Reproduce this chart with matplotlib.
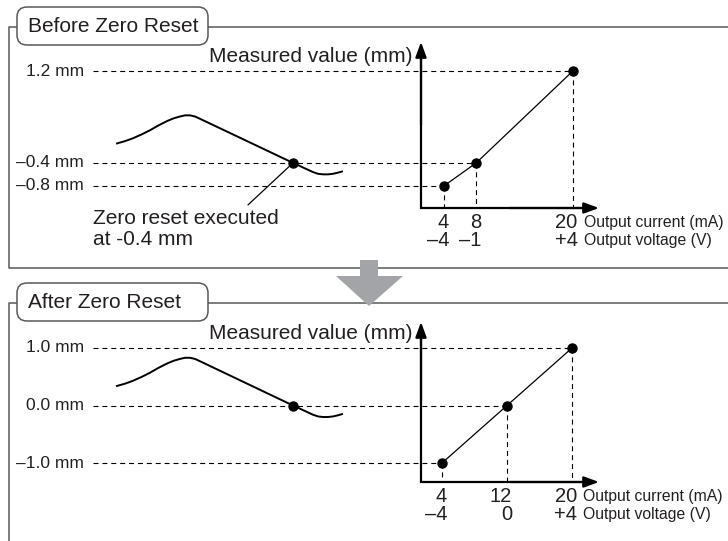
import matplotlib.pyplot as plt
from matplotlib.patches import FancyBboxPatch, Polygon

plt.rcParams['font.family'] = ['Liberation Sans', 'DejaVu Sans']

W, H = 728, 541
INK = '#231f20'
FRAME = '#58595b'

# output current (mA) vs measured value (mm), before the zero reset
CURRENT_BEFORE = [4, 8, 20]
VALUE_BEFORE = [-0.8, -0.4, 1.2]
VOLTAGE_BEFORE = ['–4', '–1', '+4']
VALUE_LABELS_BEFORE = ['–0.8 mm', '–0.4 mm', '1.2 mm']

# ... and after it
CURRENT_AFTER = [4, 12, 20]
VALUE_AFTER = [-1.0, 0.0, 1.0]
VOLTAGE_AFTER = ['–4', '0', '+4']
VALUE_LABELS_AFTER = ['–1.0 mm', '0.0 mm', '1.0 mm']

# measured waveform (arbitrary time units), reset happens at RESET_T
WAVE_T = [0, 8, 16, 25, 33, 41, 50, 57, 63, 68, 73, 78, 83,
          176, 180, 186, 191, 196, 201, 206, 211, 216, 221, 225]
WAVE_BEFORE = [-0.06, -0.02, 0.03, 0.10, 0.17, 0.25, 0.33, 0.38, 0.41, 0.43, 0.43, 0.41, 0.37,
               -0.40, -0.43, -0.48, -0.52, -0.56, -0.59, -0.60, -0.60, -0.59, -0.57, -0.55]
WAVE_AFTER = [0.34, 0.38, 0.43, 0.50, 0.57, 0.65, 0.73, 0.78, 0.81, 0.83, 0.83, 0.81, 0.77,
              0.00, -0.03, -0.08, -0.12, -0.16, -0.19, -0.20, -0.20, -0.19, -0.17, -0.15]
RESET_T = 176

fig = plt.figure(figsize=(W / 100, H / 100), dpi=100)
base = fig.add_axes([0, 0, 1, 1])
base.set_xlim(0, W)
base.set_ylim(H, 0)
base.axis('off')


def px_axes(left, top, right, bottom, **kw):
    return fig.add_axes([left / W, 1 - bottom / H, (right - left) / W, (bottom - top) / H], **kw)


def draw_panel(title, frame_top, frame_bottom, box_top, graph_top, graph_bottom, xlim, ylim,
               current, value, voltage, value_labels, wave, note=None):
    # frame and rounded title box
    if frame_bottom is None:
        base.plot([W, 9, 9], [frame_top, frame_top, H], color=FRAME, lw=1.1)
    else:
        base.plot([W, 9, 9, W], [frame_top, frame_top, frame_bottom, frame_bottom], color=FRAME, lw=1.1)
    base.add_patch(FancyBboxPatch((17, box_top), 191, 38, boxstyle='round,pad=0,rounding_size=10',
                                  fc='white', ec=FRAME, lw=1.1, zorder=3))
    base.text(28, box_top + 19, title, fontsize=15, color=INK, ha='left', va='center', zorder=4)

    # graph
    ax = px_axes(421, graph_top, 599, graph_bottom)
    ax.set_xlim(xlim)
    ax.set_ylim(ylim)
    ax.axis('off')

    ax.plot([0, 0, 0.9], [0.9, 0, 0], transform=ax.transAxes, color='black', lw=1.6,
            solid_joinstyle='miter', clip_on=False)
    for tip in [(0, 1), (1, 0)]:
        ax.annotate('', xy=tip, xytext=(tip[0] * 0.5, tip[1] * 0.5), xycoords='axes fraction',
                    arrowprops=dict(arrowstyle='-|>,head_length=0.9,head_width=0.33', lw=1.6,
                                    color='black', shrinkA=0, shrinkB=0))

    # start of the dashed guides, just right of the value labels
    disp = base.transData.transform((93, 0))
    x0 = ax.transData.inverted().transform(disp)[0]

    for c, v, lab in zip(current, value, value_labels):
        ax.plot([x0, c], [v, v], color='black', lw=0.8, dashes=(4.5, 3.5), clip_on=False)
        ax.plot([c, c], [v, ylim[0]], color='black', lw=0.8, dashes=(4.5, 3.5), clip_on=False)
        ax.annotate(lab, xy=(x0, v), xytext=(-9, 0), textcoords='offset pixels',
                    fontsize=12.5, color=INK, ha='right', va='center', annotation_clip=False)

    ax.plot(current, value, color='black', lw=0.9, clip_on=False)
    ax.plot(current, value, 'o', color='black', ms=6.5, clip_on=False, zorder=5)

    for c, volt in zip(current, voltage):
        ax.annotate(str(c), xy=(c, ylim[0]), xytext=(5, -14), textcoords='offset pixels',
                    fontsize=14.5, color=INK, ha='right', va='center', annotation_clip=False)
        ax.annotate(volt, xy=(c, ylim[0]), xytext=(5, -32), textcoords='offset pixels',
                    fontsize=14.5, color=INK, ha='right', va='center', annotation_clip=False)
    ax.annotate('Output current (mA)', xy=(current[-1], ylim[0]), xytext=(11, -14),
                textcoords='offset pixels', fontsize=11.3, color=INK, ha='left', va='center',
                annotation_clip=False)
    ax.annotate('Output voltage (V)', xy=(current[-1], ylim[0]), xytext=(11, -32),
                textcoords='offset pixels', fontsize=11.3, color=INK, ha='left', va='center',
                annotation_clip=False)

    ax.annotate('Measured value (mm)', xy=(0, value[-1]), xycoords=('axes fraction', 'data'),
                xytext=(-9, 9), textcoords='offset pixels', fontsize=15, color=INK,
                ha='right', va='baseline', annotation_clip=False)

    # waveform
    aw = px_axes(100, graph_top, 360, graph_bottom, sharey=ax)
    aw.set_xlim(-17, 243)
    aw.axis('off')
    aw.plot(WAVE_T, wave, color='black', lw=1.4, clip_on=False, solid_joinstyle='round')
    aw.plot([RESET_T], [value[1]], 'o', color='black', ms=6.5, clip_on=False, zorder=5)
    if note:
        aw.annotate('', xy=(RESET_T, value[1]), xytext=(-45, -42), textcoords='offset pixels',
                    arrowprops=dict(arrowstyle='-', lw=0.9, color='black', shrinkA=0, shrinkB=0))
        base.text(93, 224, note[0], fontsize=15, color=INK, ha='left', va='baseline')
        base.text(93, 245, note[1], fontsize=15, color=INK, ha='left', va='baseline')


draw_panel('Before Zero Reset', 27, 268, 7, 42, 208, (1.13, 23.28), (-1.187, 1.710),
           CURRENT_BEFORE, VALUE_BEFORE, VOLTAGE_BEFORE, VALUE_LABELS_BEFORE, WAVE_BEFORE,
           note=('Zero reset executed', 'at -0.4 mm'))
draw_panel('After Zero Reset', 303, None, 283, 322, 482, (1.415, 23.32), (-1.33, 1.452),
           CURRENT_AFTER, VALUE_AFTER, VOLTAGE_AFTER, VALUE_LABELS_AFTER, WAVE_AFTER)

# gray arrow between the two panels
base.add_patch(Polygon([(360, 260), (378, 260), (378, 276), (403, 276), (369, 306), (336, 276), (360, 276)],
                       closed=True, fc='#a3a4a7', ec='none', zorder=5))

fig.savefig('out.png', dpi=100)
